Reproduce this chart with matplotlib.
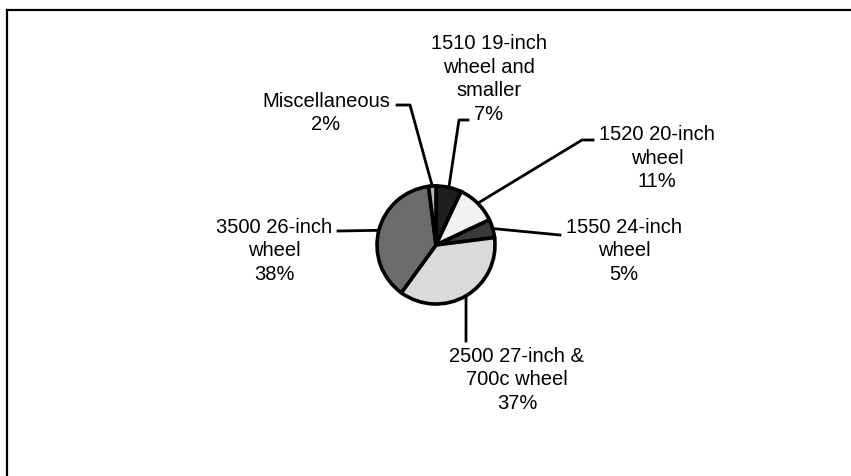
import matplotlib
matplotlib.use("Agg")
import numpy as np
import matplotlib.pyplot as plt
from matplotlib.lines import Line2D

plt.rcParams['font.family'] = ['Liberation Sans', 'DejaVu Sans']

# ---- data ----
categories = ["1510 19-inch\nwheel and\nsmaller",
              "1520 20-inch\nwheel",
              "1550 24-inch\nwheel",
              "2500 27-inch &\n700c wheel",
              "3500 26-inch\nwheel",
              "Miscellaneous"]
shares = [7, 11, 5, 37, 38, 2]

# ---- styles / layout ----
colors = ['#1e1e1e', '#f2f2f2', '#3a3a3a', '#dadada', '#6c6c6c', '#b4b4b4']
W, H = 851, 477
label_pos = [(489, 79), (657, 158), (624, 251), (517, 380), (274, 251), (326, 113)]
leader_paths = [[(459, 121), (468, 121)],
                [(582, 141), (593, 141)],
                [(560, 236)],
                [(466, 342)],
                [(338, 232)],
                [(410, 106), (397, 106)]]

fig = plt.figure(figsize=(W / 100, H / 100), dpi=100)
ax = fig.add_axes([0, 0, 1, 1])

cx, cy, r = 436, H - 246, 59
wedges, _ = ax.pie(shares, colors=colors, startangle=90, counterclock=False,
                   center=(cx, cy), radius=r,
                   wedgeprops=dict(edgecolor='black', linewidth=2.6))
ax.set_xlim(0, W)
ax.set_ylim(0, H)
ax.set_aspect('equal')
ax.axis('off')

for w, cat, v, (tx, ty), path in zip(wedges, categories, shares, label_pos, leader_paths):
    mid = np.deg2rad((w.theta1 + w.theta2) / 2)
    pts = [(cx + r * np.cos(mid), cy + r * np.sin(mid))] + [(px, H - py) for px, py in path]
    xs, ys = zip(*pts)
    ax.add_line(Line2D(xs, ys, color='black', linewidth=2.0, zorder=0))
    ax.text(tx, H - ty, f"{cat}\n{v}%", ha='center', va='center', fontsize=14.5,
            linespacing=1.29, color='black')

# partial frame (top and left edges)
fig.add_artist(Line2D([7 / W, 1], [1 - 11 / H, 1 - 11 / H], color='black', linewidth=1.6))
fig.add_artist(Line2D([7 / W, 7 / W], [0, 1 - 11 / H], color='black', linewidth=1.6))

fig.savefig("out.png", dpi=100)
